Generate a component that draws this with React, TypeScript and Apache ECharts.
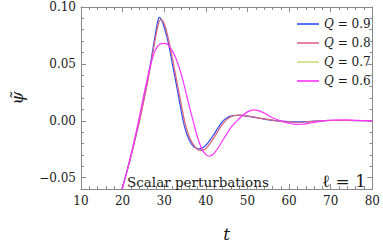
import React, { useEffect, useRef } from "react";
import * as echarts from "echarts";

const tQ09 = [19,20,21,22,23,24,25,26,27,28,28.5,28.8,29.2,29.5,30,31,32,33,34,35,36,37,38,38.5,39,40,41,42,43,44,45,46,47,48,49,50,52,54,56,58,60,62,64,66,68,70,74,80];
const psiQ09 = [-0.071,-0.058,-0.045,-0.031,-0.016,0.000,0.018,0.036,0.057,0.079,0.0885,0.0908,0.0895,0.0875,0.082,0.068,0.049,0.030,0.010,-0.007,-0.017,-0.0225,-0.0244,-0.0247,-0.0243,-0.0215,-0.0170,-0.0115,-0.0058,-0.0005,0.0025,0.0040,0.0046,0.0047,0.0045,0.0040,0.0028,0.0015,0.0004,-0.0004,-0.0009,-0.0010,-0.0008,-0.0004,0.0,0.0002,0.0002,0.0];

const tQ08 = [19,20,21,22,23,24,25,26,27,28,28.7,29.2,29.8,30.5,31,32,33,34,35,36,37,38,38.8,39.5,40,41,42,43,44,45,46,47,48,49,50,52,54,56,58,60,62,64,66,68,70,74,80];
const psiQ08 = [-0.072,-0.058,-0.045,-0.031,-0.016,-0.001,0.016,0.034,0.054,0.075,0.0865,0.0888,0.0868,0.0795,0.072,0.054,0.035,0.016,-0.002,-0.014,-0.021,-0.025,-0.026,-0.0255,-0.0245,-0.020,-0.0145,-0.0085,-0.003,0.0012,0.0035,0.0046,0.005,0.0048,0.0042,0.003,0.0016,0.0005,-0.0005,-0.0011,-0.0013,-0.001,-0.0005,-0.0001,0.0002,0.0002,0.0];

const tQ07 = [19,20,21,22,23,24,25,26,27,28,28.7,29.2,29.8,30.5,31,32,33,34,35,36,37,38,38.8,39.5,40,41,42,43,44,45,46,47,48,49,50,52,54,56,58,60,62,64,66,68,70,74,80];
const psiQ07 = [-0.072,-0.058,-0.045,-0.031,-0.016,-0.0008,0.0165,0.0345,0.0548,0.0765,0.0872,0.0892,0.087,0.0795,0.0718,0.0535,0.0345,0.0155,-0.0025,-0.0145,-0.0215,-0.0253,-0.0262,-0.0256,-0.0246,-0.0201,-0.0146,-0.0086,-0.0031,0.0011,0.0034,0.0045,0.0049,0.0047,0.0041,0.0029,0.0016,0.0005,-0.0005,-0.0011,-0.0013,-0.001,-0.0005,-0.0001,0.0002,0.0002,0.0];

const tQ06 = [19,20,21,22,23,24,25,26,27,28,29,30,30.5,31,32,33,34,35,36,37,38,39,40,40.7,41.5,42,43,44,45,46,47,48,49,50,51,51.5,52,53,54,55,56,57,58,59,60,61,62,63,64,65,66,68,70,72,74,76,78,80];
const psiQ06 = [-0.072,-0.059,-0.045,-0.030,-0.014,0.003,0.021,0.038,0.053,0.063,0.0675,0.068,0.0678,0.0665,0.061,0.053,0.042,0.028,0.013,-0.001,-0.0145,-0.0245,-0.0298,-0.031,-0.0302,-0.0285,-0.0235,-0.0175,-0.0115,-0.006,-0.0018,0.0018,0.0052,0.0078,0.0092,0.0095,0.0094,0.0085,0.0068,0.0047,0.0027,0.0011,0.0,-0.0012,-0.0022,-0.0029,-0.0032,-0.0031,-0.0027,-0.0021,-0.0014,-0.0003,0.0005,0.0008,0.0007,0.0004,0.0001,0.0];

const qLabels = ["0.9", "0.8", "0.7", "0.6"];
const qColors = ["#2f4ff5", "#e2628c", "#c8e27c", "#ff33ff"];
const yMajorTicks = [-0.05, 0, 0.05, 0.1];

const SERIF = "DejaVu Serif";
const AXIS_COLOR = "#8a8a8a";
const TEXT_COLOR = "#1a1a1a";

function pairs(t: number[], v: number[]) {
  return t.map((x, i) => [x, v[i]]);
}

export default function App() {
  const ref = useRef<HTMLDivElement>(null);
  useEffect(() => {
    if (!ref.current) return;
    const chart = echarts.init(ref.current, undefined, { renderer: "svg" });
    const axisLine = { show: true, onZero: false, lineStyle: { color: AXIS_COLOR, width: 1 } };
    const fmtY = (v: number) => {
      if (Math.abs(v) < 1e-9) return "0.00";
      return (v < 0 ? "\u2212" : "") + Math.abs(v).toFixed(2);
    };
    const mkSeries = (name: string, t: number[], v: number[], color: string) => ({
      name,
      type: "line",
      data: pairs(t, v),
      showSymbol: false,
      smooth: 0.35,
      lineStyle: { color, width: 1.2 },
      itemStyle: { color },
      clip: true,
      xAxisIndex: 0,
      yAxisIndex: 0,
    });
    chart.setOption({
      animation: false,
      grid: { left: 75, right: 9, top: 7, bottom: 55, containLabel: false },
      legend: {
        data: qLabels,
        orient: "vertical",
        left: 292,
        top: 12,
        icon: "rect",
        itemWidth: 22,
        itemHeight: 1.6,
        itemGap: 5,
        formatter: (name: string) => `{i|Q} = ${name}`,
        textStyle: {
          fontFamily: SERIF,
          fontSize: 12,
          color: TEXT_COLOR,
          lineHeight: 14,
          rich: { i: { fontStyle: "italic", fontFamily: SERIF, fontSize: 12, color: TEXT_COLOR } },
        },
      },
      xAxis: [
        {
          type: "value",
          min: 10,
          max: 80,
          interval: 10,
          position: "bottom",
          axisLine,
          axisTick: { show: true, inside: true, length: 5, lineStyle: { color: AXIS_COLOR } },
          minorTick: { show: true, splitNumber: 5, length: 3, lineStyle: { color: AXIS_COLOR } },
          axisLabel: { color: TEXT_COLOR, fontFamily: SERIF, fontSize: 12, margin: 6 },
          splitLine: { show: false },
          name: "t",
          nameLocation: "middle",
          nameGap: 36,
          nameTextStyle: { fontFamily: SERIF, fontStyle: "italic", fontSize: 17, color: TEXT_COLOR },
        },
        {
          type: "value",
          min: 10,
          max: 80,
          interval: 10,
          position: "top",
          axisLine,
          axisTick: { show: true, inside: true, length: 5, lineStyle: { color: AXIS_COLOR } },
          minorTick: { show: true, splitNumber: 5, length: 3, lineStyle: { color: AXIS_COLOR } },
          axisLabel: { show: false },
          splitLine: { show: false },
        },
      ],
      yAxis: [
        {
          type: "value",
          min: -0.06,
          max: 0.1,
          position: "left",
          axisLine,
          axisTick: { show: true, inside: true, length: 5, customValues: yMajorTicks, lineStyle: { color: AXIS_COLOR } },
          axisLabel: {
            customValues: yMajorTicks,
            formatter: fmtY,
            color: TEXT_COLOR,
            fontFamily: SERIF,
            fontSize: 12,
            margin: 5,
          },
          splitLine: { show: false },
          name: "\u03C8\u0303",
          nameLocation: "middle",
          nameRotate: 90,
          nameGap: 56,
          nameTextStyle: { fontFamily: SERIF, fontStyle: "italic", fontSize: 17, color: TEXT_COLOR },
        },
        {
          type: "value",
          min: -0.06,
          max: 0.1,
          interval: 0.01,
          position: "left",
          axisLine,
          axisTick: { show: true, inside: true, length: 3, lineStyle: { color: AXIS_COLOR } },
          axisLabel: { show: false },
          splitLine: { show: false },
        },
        {
          type: "value",
          min: -0.06,
          max: 0.1,
          position: "right",
          axisLine,
          axisTick: { show: true, inside: true, length: 5, customValues: yMajorTicks, lineStyle: { color: AXIS_COLOR } },
          axisLabel: { show: false },
          splitLine: { show: false },
        },
        {
          type: "value",
          min: -0.06,
          max: 0.1,
          interval: 0.01,
          position: "right",
          axisLine,
          axisTick: { show: true, inside: true, length: 3, lineStyle: { color: AXIS_COLOR } },
          axisLabel: { show: false },
          splitLine: { show: false },
        },
      ],
      graphic: [
        {
          type: "text",
          x: 127,
          y: 182,
          style: {
            text: "Scalar perturbations",
            font: "13.5px DejaVu Serif",
            fill: TEXT_COLOR,
            textVerticalAlign: "middle",
          },
          z: 10,
        },
        {
          type: "text",
          x: 322,
          y: 181,
          style: {
            text: "\u2113 = 1",
            font: "17px DejaVu Serif",
            fill: TEXT_COLOR,
            textVerticalAlign: "middle",
          },
          z: 10,
        },
      ],
      series: [
        mkSeries(qLabels[2], tQ07, psiQ07, qColors[2]),
        mkSeries(qLabels[0], tQ09, psiQ09, qColors[0]),
        mkSeries(qLabels[1], tQ08, psiQ08, qColors[1]),
        mkSeries(qLabels[3], tQ06, psiQ06, qColors[3]),
      ],
    });
    return () => chart.dispose();
  }, []);
  return <div ref={ref} style={{ width: 383, height: 247, position: "absolute", left: 0, top: 0 }} />;
}
